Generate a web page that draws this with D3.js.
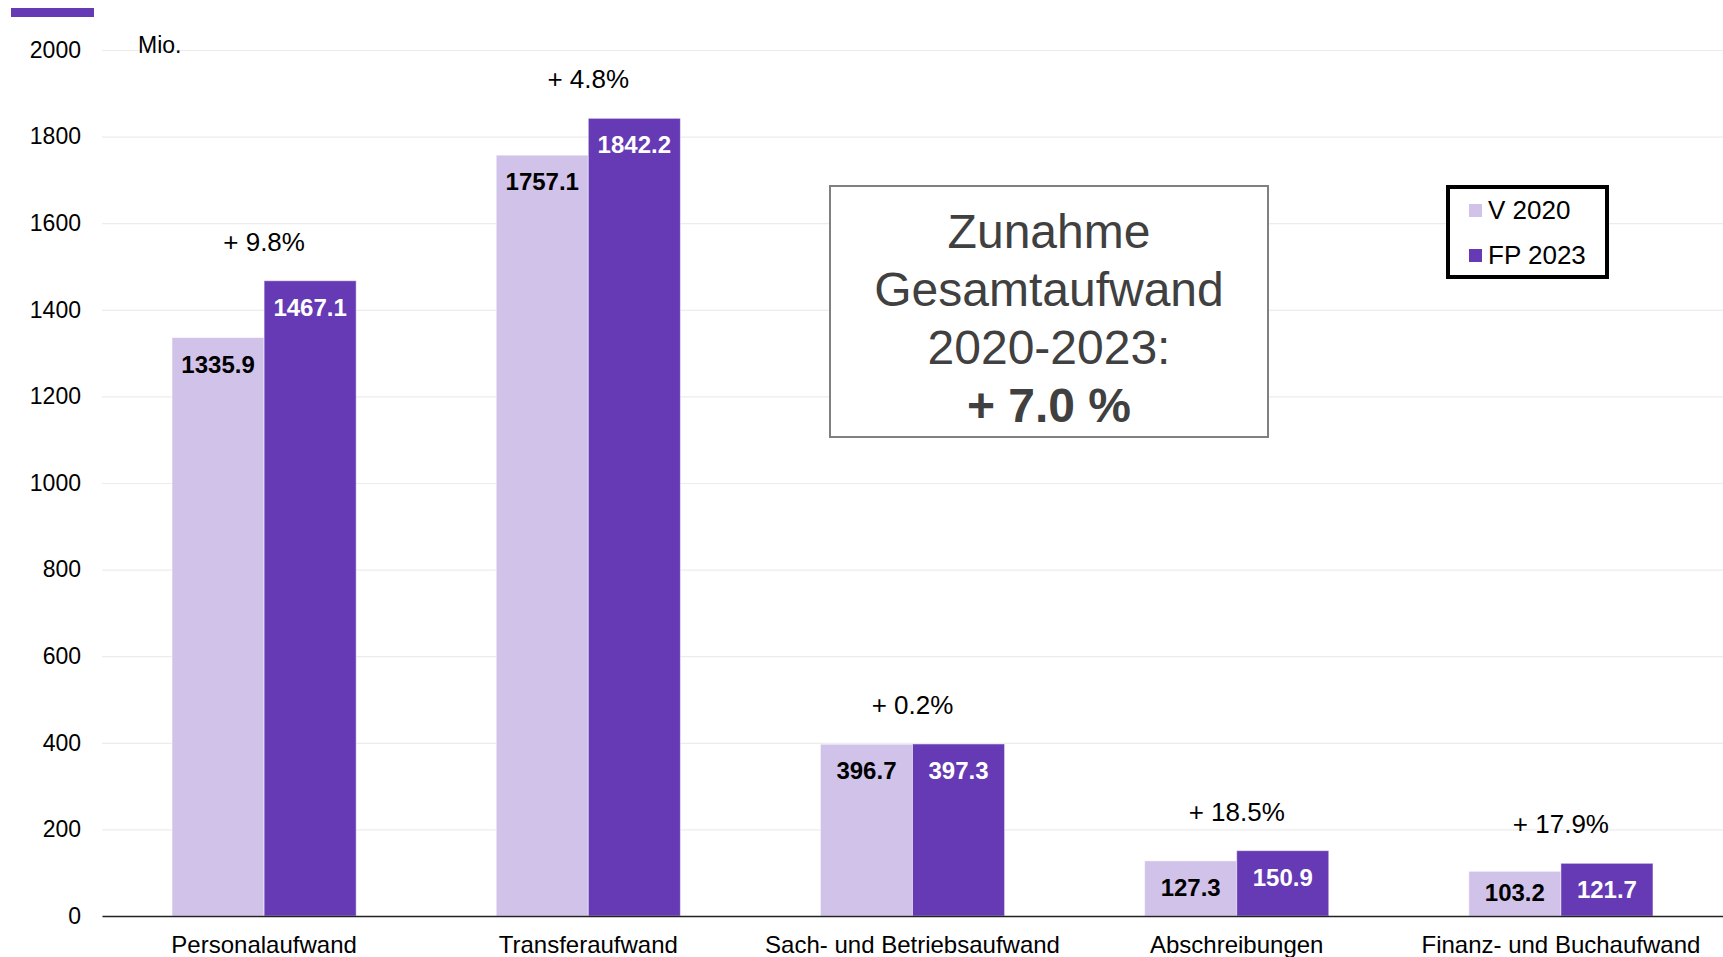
<!DOCTYPE html>
<html>
<head>
<meta charset="utf-8">
<script src="https://cdn.jsdelivr.net/npm/d3@7"></script>
<style>
  body { margin: 0; background: #fff; }
  svg { display: block; font-family: "Liberation Sans", Arial, sans-serif; }
</style>
</head>
<body>
<div id="chart"></div>
<script>
const categories = ['Personalaufwand', 'Transferaufwand', 'Sach- und Betriebsaufwand', 'Abschreibungen', 'Finanz- und Buchaufwand'];
const series = ['V 2020', 'FP 2023'];
const v2020 = [1335.9, 1757.1, 396.7, 127.3, 103.2];
const fp2023 = [1467.1, 1842.2, 397.3, 150.9, 121.7];
const changes = ['+ 9.8%', '+ 4.8%', '+ 0.2%', '+ 18.5%', '+ 17.9%'];
const yTicks = [0, 200, 400, 600, 800, 1000, 1200, 1400, 1600, 1800, 2000];
const boxLines = ['Zunahme', 'Gesamtaufwand', '2020-2023:', '+ 7.0 %'];

const W = 1723, H = 957;
const margin = {top: 50, bottom: 41, left: 102, right: 0};
const colors = {'V 2020': '#d1c2ea', 'FP 2023': '#6639b5'};

const svg = d3.select('#chart').append('svg')
    .attr('width', W)
    .attr('height', H);

const y = d3.scaleLinear()
    .domain([0, 2000])
    .range([H - margin.bottom, margin.top]);

const x0 = d3.scaleBand()
    .domain(categories)
    .range([margin.left, W - margin.right])
    .padding(0);

const groupW = x0.bandwidth() * 0.568;
const x1 = d3.scaleBand()
    .domain(series)
    .range([0, groupW]);

// decorative accent top-left
svg.append('rect')
    .attr('x', 11).attr('y', 8)
    .attr('width', 83).attr('height', 9)
    .attr('fill', '#6639b5');

// gridlines
const grid = svg.append('g')
    .attr('transform', `translate(${margin.left},0)`)
    .call(d3.axisLeft(y).tickValues(yTicks).tickSize(-(W - margin.left - margin.right)).tickFormat(''));
grid.select('.domain').remove();
grid.selectAll('line').attr('stroke', '#ececec').attr('stroke-width', 1.2);

// y axis labels
const yAxis = svg.append('g')
    .attr('transform', `translate(${margin.left},0)`)
    .call(d3.axisLeft(y).tickValues(yTicks).tickSize(0).tickPadding(21).tickFormat(d3.format('d')));
yAxis.select('.domain').remove();
yAxis.selectAll('text')
    .attr('font-size', 23)
    .attr('font-family', '"Liberation Sans", Arial, sans-serif')
    .attr('fill', '#000');

svg.append('text')
    .attr('x', 138).attr('y', 53)
    .attr('font-size', 23)
    .text('Mio.');

// bars
const rows = categories.map((c, i) => ({cat: c, values: [
    {key: 'V 2020', value: v2020[i]},
    {key: 'FP 2023', value: fp2023[i]}
], change: changes[i]}));

const groups = svg.selectAll('g.cat')
    .data(rows)
    .enter().append('g')
    .attr('class', 'cat')
    .attr('transform', d => `translate(${x0(d.cat) + (x0.bandwidth() - groupW) / 2},0)`);

groups.selectAll('rect')
    .data(d => d.values)
    .enter().append('rect')
    .attr('x', d => x1(d.key))
    .attr('y', d => y(d.value))
    .attr('width', x1.bandwidth())
    .attr('height', d => y(0) - y(d.value))
    .attr('fill', d => colors[d.key])
    .attr('stroke', '#fff')
    .attr('stroke-opacity', 0.5)
    .attr('stroke-width', 1);

groups.selectAll('text.val')
    .data(d => d.values)
    .enter().append('text')
    .attr('class', 'val')
    .attr('x', d => x1(d.key) + x1.bandwidth() / 2)
    .attr('y', d => Math.min(y(d.value) + 35, y(0) - 15))
    .attr('text-anchor', 'middle')
    .attr('font-size', 24)
    .attr('font-weight', 'bold')
    .attr('fill', d => d.key === 'V 2020' ? '#000' : '#fff')
    .text(d => d.value.toFixed(1));

groups.append('text')
    .attr('x', groupW / 2)
    .attr('y', d => y(d3.max(d.values, v => v.value)) - 30)
    .attr('text-anchor', 'middle')
    .attr('font-size', 26)
    .attr('fill', '#000')
    .text(d => d.change);

// x axis
const xAxis = svg.append('g')
    .attr('transform', `translate(0,${y(0)})`)
    .call(d3.axisBottom(x0).tickSize(0).tickPadding(20));
xAxis.select('.domain').attr('stroke', '#222').attr('stroke-width', 1.5);
xAxis.selectAll('text')
    .attr('font-size', 24)
    .attr('font-family', '"Liberation Sans", Arial, sans-serif')
    .attr('fill', '#000');

// annotation box
const box = svg.append('g').attr('transform', 'translate(830,186)');
box.append('rect')
    .attr('width', 438).attr('height', 251)
    .attr('fill', '#fff')
    .attr('stroke', '#808080')
    .attr('stroke-width', 2);
box.selectAll('text')
    .data(boxLines)
    .enter().append('text')
    .attr('x', 219)
    .attr('y', (d, i) => 62 + i * 58)
    .attr('text-anchor', 'middle')
    .attr('font-size', 48)
    .attr('font-weight', (d, i) => i === boxLines.length - 1 ? 'bold' : 'normal')
    .attr('fill', '#404040')
    .text(d => d);

// legend
const legend = svg.append('g').attr('transform', 'translate(1448,187)');
legend.append('rect')
    .attr('width', 159).attr('height', 90)
    .attr('fill', '#fff')
    .attr('stroke', '#000')
    .attr('stroke-width', 4);
const items = legend.selectAll('g.item')
    .data(series)
    .enter().append('g')
    .attr('class', 'item')
    .attr('transform', (d, i) => `translate(21,${17 + i * 45})`);
items.append('rect')
    .attr('width', 13).attr('height', 13)
    .attr('fill', d => colors[d]);
items.append('text')
    .attr('x', 19).attr('y', 15)
    .attr('font-size', 26)
    .attr('fill', '#000')
    .text(d => d);
</script>
</body>
</html>
